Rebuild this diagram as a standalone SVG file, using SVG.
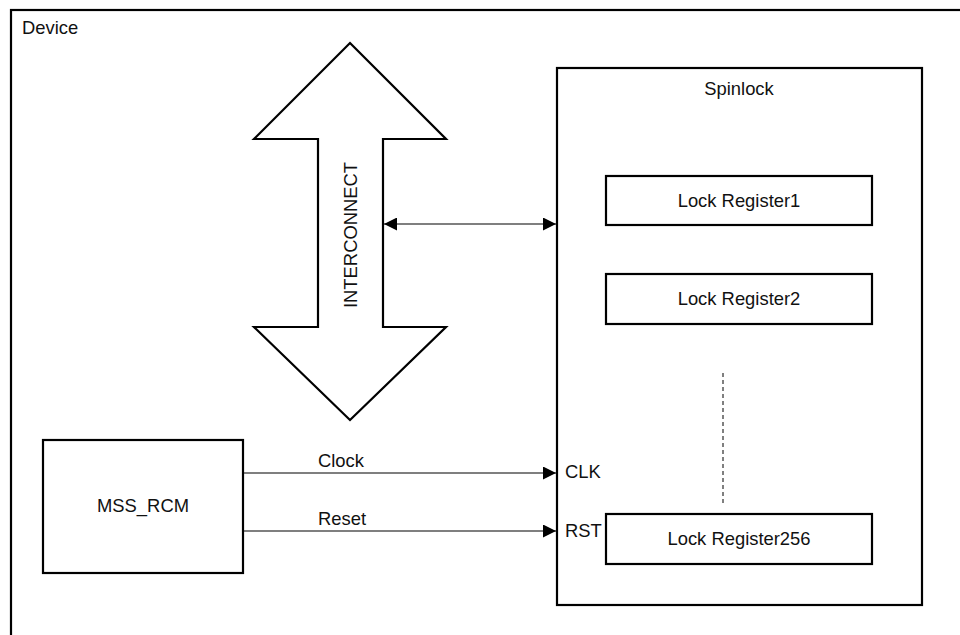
<svg xmlns="http://www.w3.org/2000/svg" width="960" height="635" viewBox="0 0 960 635">
<defs>
<style>
.box{fill:#fff;stroke:#000;stroke-width:2.2}
.ln{fill:none;stroke:#000;stroke-width:1.2}
.dash{fill:none;stroke:#000;stroke-width:1;stroke-dasharray:4,3}
text{font-family:"Liberation Sans",Arial,sans-serif;font-size:18.4px;fill:#111}
.c{text-anchor:middle}
</style>
<marker id="ah" viewBox="0 0 13 13" refX="13" refY="6.5" markerWidth="13" markerHeight="13" markerUnits="userSpaceOnUse" orient="auto-start-reverse">
<path d="M0,0 L13,6.5 L0,13 Z" fill="#000"/>
</marker>
</defs>
<rect width="960" height="635" fill="#fff"/>
<g id="device">
<rect class="box" x="11" y="10" width="960" height="640"/>
<text x="22" y="34">Device</text>
</g>
<g id="interconnect">
<polygon class="box" points="350,43 446,139 383,139 383,327 446,327 350,420 254,327 318,327 318,139 254,139"/>
<text class="c" transform="translate(356.5,235) rotate(-90)">INTERCONNECT</text>
</g>
<g id="spinlock">
<rect class="box" x="557" y="68" width="365" height="537"/>
<text class="c" x="739" y="95">Spinlock</text>
<text x="565" y="478">CLK</text>
<text x="565" y="537">RST</text>
</g>
<g id="lockreg1">
<rect class="box" x="606" y="176" width="266" height="49"/>
<text class="c" x="739" y="207">Lock Register1</text>
</g>
<g id="lockreg2">
<rect class="box" x="606" y="274" width="266" height="50"/>
<text class="c" x="739" y="305">Lock Register2</text>
</g>
<g id="lockreg256">
<rect class="box" x="606" y="514" width="266" height="50"/>
<text class="c" x="739" y="545">Lock Register256</text>
</g>
<g id="mss_rcm">
<rect class="box" x="43" y="440" width="200" height="133"/>
<text class="c" x="143" y="512">MSS_RCM</text>
</g>
<g id="connectors">
<line class="ln" x1="384" y1="224" x2="556" y2="224" marker-start="url(#ah)" marker-end="url(#ah)"/>
<line class="ln" x1="243" y1="473" x2="556" y2="473" marker-end="url(#ah)"/>
<line class="ln" x1="243" y1="531" x2="556" y2="531" marker-end="url(#ah)"/>
<line class="dash" x1="723" y1="373" x2="723" y2="506"/>
<text x="318" y="467">Clock</text>
<text x="318" y="525">Reset</text>
</g>
</svg>
